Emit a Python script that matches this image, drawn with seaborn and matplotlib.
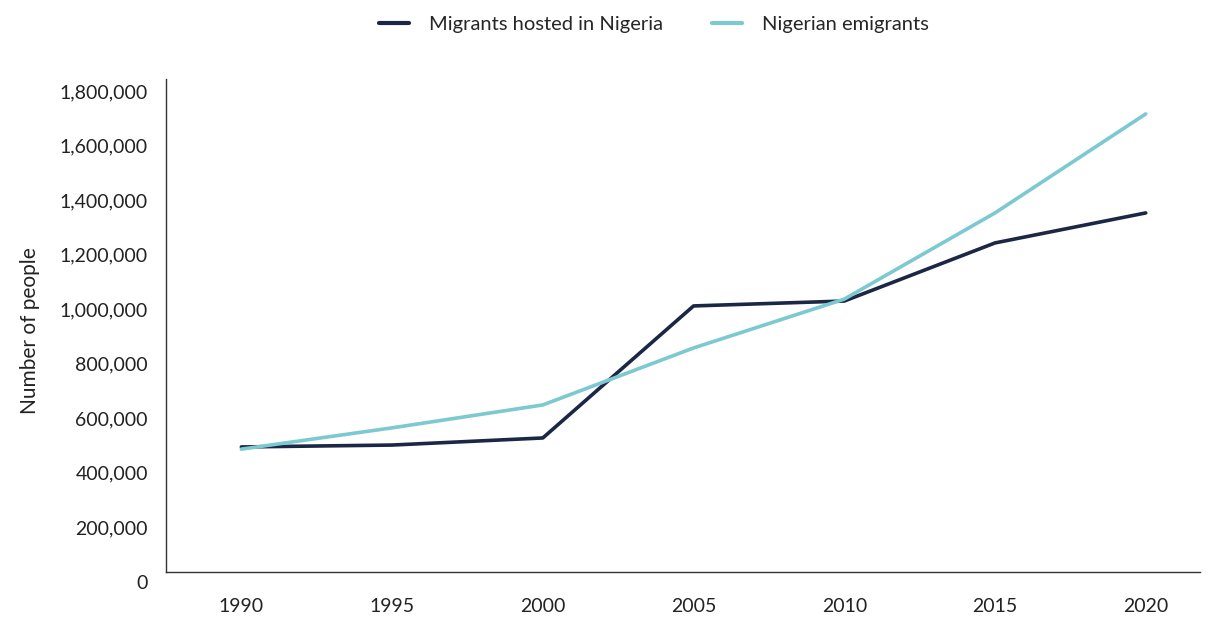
import pandas as pd
import seaborn as sns
import matplotlib.pyplot as plt
from matplotlib.ticker import FuncFormatter

years = [1990, 1995, 2000, 2005, 2010, 2015, 2020]
hosted = [495000, 502000, 528000, 1012000, 1030000, 1243000, 1353000]
emigrants = [487000, 565000, 649000, 858000, 1037000, 1353000, 1716000]

series_names = ["Migrants hosted in Nigeria", "Nigerian emigrants"]
colors = ["#1b2744", "#7cc9d1"]

data = pd.DataFrame({
    "year": years * 2,
    "people": hosted + emigrants,
    "series": [series_names[0]] * len(years) + [series_names[1]] * len(years),
})

sns.set_theme(style="white")
plt.rcParams['font.family'] = ['Lato', 'DejaVu Sans']

fig = plt.figure(figsize=(12.08, 6.19), dpi=100)
ax = fig.add_axes([0.1374, 0.0598, 0.856, 0.8126])

sns.lineplot(data=data, x="year", y="people", hue="series",
             palette=colors, linewidth=2.6, ax=ax)

ax.set_xlim(1987.5, 2021.8)
ax.set_ylim(0, 1844000)
ax.set_xticks(years)
ax.set_yticks(range(0, 1800001, 200000))
ax.yaxis.set_major_formatter(FuncFormatter(lambda v, p: f"{int(v):,}"))
ax.tick_params(axis='both', length=0, labelsize=14, colors='#222222')
ax.tick_params(axis='y', pad=13)
ax.tick_params(axis='x', pad=19)

# axis line sits a little above zero in the original
ax.spines['bottom'].set_position(('data', 37000))
ax.spines['left'].set_bounds(37000, 1844000)
for s in ['top', 'right']:
    ax.spines[s].set_visible(False)
for s in ['left', 'bottom']:
    ax.spines[s].set_color('#333333')
    ax.spines[s].set_linewidth(1.0)

ax.set_xlabel('')
ax.set_ylabel('Number of people', fontsize=15, color='#222222', labelpad=14)

leg = ax.legend(loc='center', bbox_to_anchor=(0.472, 1.109), ncol=2,
                frameon=False, fontsize=14.5, handlelength=1.5, columnspacing=2.4,
                handletextpad=1.0)
for line in leg.get_lines():
    line.set_linewidth(3)

fig.savefig('out.png', dpi=100)
